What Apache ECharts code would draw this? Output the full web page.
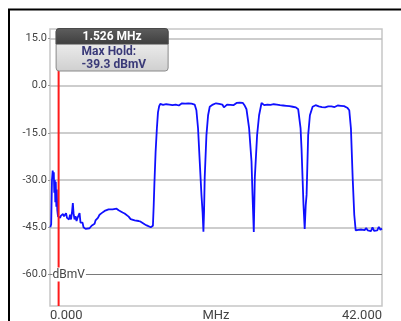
<!DOCTYPE html>
<html><head><meta charset="utf-8">
<script src="https://cdn.jsdelivr.net/npm/echarts@6/dist/echarts.min.js"></script>
<style>html,body{margin:0;padding:0;background:#fff}#c{width:401px;height:321px}</style>
</head><body><div id="c"></div>
<script>
// Spectrum trace (frequency in MHz, level in dBmV)
const traceMHz = [
  0.04,0.15,0.25,0.34,0.42,0.48,0.54,0.61,0.67,0.73,0.80,0.86,0.92,1.01,1.14,1.27,1.39,1.52,1.65,1.77,
  1.90,2.03,2.15,2.28,2.41,2.53,2.66,2.79,2.89,2.98,3.10,3.23,3.36,3.48,3.61,3.74,3.86,3.99,4.12,4.24,
  4.37,4.50,4.75,5.00,5.26,5.38,5.51,5.64,5.76,5.89,6.06,6.14,6.27,6.40,6.53,6.69,6.91,7.16,7.41,7.66,
  7.92,8.17,8.42,8.68,8.93,9.18,9.44,9.69,9.95,10.20,10.45,10.71,10.96,11.21,11.47,11.72,11.97,12.23,12.48,12.74,
  12.90,13.02,13.12,13.21,13.36,13.52,13.66,13.81,
  13.95,14.1,14.3,14.5,14.7,14.9,15.1,15.3,15.5,15.7,15.9,16.1,16.3,16.5,16.7,16.9,17.1,17.3,17.5,17.7,17.9,18.1,18.3,
  18.52,18.73,18.94,19.16,19.30,19.41,19.49,19.57,19.79,20.00,20.21,
  20.4,20.6,20.8,21.0,21.2,21.4,21.6,21.8,22.0,22.2,22.4,22.6,22.8,23.0,23.2,23.4,23.6,23.8,24.0,24.2,24.4,24.6,
  24.86,25.19,25.49,25.62,25.78,25.91,26.20,26.45,26.76,
  26.95,27.1,27.3,27.5,27.7,27.9,28.1,28.3,28.5,28.7,28.9,29.1,29.3,29.5,29.7,29.9,30.1,30.3,30.5,30.7,30.9,31.1,
  31.40,31.70,31.82,31.95,32.07,32.22,32.35,32.46,32.66,32.88,33.22,
  33.4,33.6,33.8,34.0,34.2,34.4,34.6,34.8,35.0,35.2,35.4,35.6,35.8,36.0,36.2,36.4,36.6,36.8,37.0,37.2,37.4,37.6,
  37.86,38.07,38.29,38.49,38.67,
  38.85,39.0,39.2,39.4,39.6,39.8,40.0,40.2,40.4,40.6,40.8,41.0,41.2,41.4,41.6,41.8,42.0
];
const traceDbmv = [
  -45,-44,-30,-27,-29,-27.5,-34,-30,-37,-30.5,-38.5,-33,-39.5,-41.5,-41,-42,-41.3,-41.8,-40.8,-41.5,
  -42,-40.5,-42,-41.5,-42.5,-41,-42.5,-40,-37.3,-40.5,-42.5,-41.5,-43,-42,-41.5,-40.5,-43.5,-44,-43.5,-45,
  -45.3,-45.5,-45.2,-45.3,-44.5,-44.8,-44,-43.9,-42.8,-43,-42,-41.5,-41,-41.2,-40.5,-40.5,-39.8,-40,-39.3,-38.9,
  -39.3,-38.7,-39.1,-39.6,-39.5,-40.3,-40.6,-41.2,-41.6,-42.4,-42.2,-42.8,-42.5,-43,-43.2,-43.7,-44,-44.4,-44.9,-45,
  -45.5,-44.5,-38,-30.9,-21,-13.6,-8.5,-6.5,
  -5.8,-5.3,-6.1,-5.5,-5.9,-5.4,-6.0,-5.6,-6.2,-5.7,-6.0,-5.5,-6.3,-5.8,-5.6,-6.1,-5.7,-5.9,-5.6,-6.0,-5.7,-5.8,-6.0,
  -7.8,-13.6,-24,-34.7,-40,-46.4,-40,-29.3,-15.7,-9.4,-6.7,
  -6.5,-6.0,-6.3,-5.6,-6.2,-5.8,-6.4,-6.0,-6.9,-6.3,-6.0,-5.6,-6.1,-5.8,-6.2,-5.7,-5.5,-5.9,-5.4,-5.8,-5.5,-6.2,
  -7.5,-13.6,-24,-34.7,-46.5,-29.3,-15.7,-9.4,-5.5,
  -5.6,-6.2,-5.8,-6.0,-6.6,-6.1,-6.4,-5.9,-6.3,-6.0,-6.5,-6.2,-6.6,-6.3,-6.0,-6.4,-6.2,-6.5,-6.2,-6.7,-6.6,-6.9,
  -7.5,-13.6,-20,-29.3,-38,-45.5,-38,-34.7,-15.7,-9.4,-6.7,
  -6.5,-6.2,-6.1,-6.6,-6.3,-6.8,-6.5,-6.9,-6.4,-6.6,-7.0,-6.6,-6.4,-6.8,-6.5,-6.3,-6.7,-6.4,-6.2,-6.5,-6.6,-7.0,
  -7.8,-13.6,-29.3,-41,-46,
  -46.0,-45.8,-46.2,-45.7,-46.3,-45.9,-45.2,-46.0,-45.6,-46.2,-45.0,-46.1,-45.5,-46.0,-44.9,-45.8,-45.4
];
const yTickValues = [15, 0, -15, -30, -45, -60];
const xTickValues = [0, 42];
const refLevel = -60;
const markerMHz = 1.09;
const markerTitle = '1.526 MHz';
const markerMode = 'Max Hold:';
const markerReading = '-39.3 dBmV';
const yUnit = 'dBmV';
const xUnit = 'MHz';

const chart = echarts.init(document.getElementById('c'), null, {renderer: 'canvas'});
const FONT = 'Roboto, "DejaVu Sans", sans-serif';
const traceData = traceMHz.map((x, i) => [x, traceDbmv[i]]);

chart.setOption({
  animation: false,
  backgroundColor: '#fff',
  grid: {left: 50, right: 19, top: 29, bottom: 15, show: true, backgroundColor: '#fff',
         borderColor: '#c6c6c6', borderWidth: 1.5, containLabel: false, outerBoundsMode: 'none'},
  xAxis: {
    type: 'value', min: 0, max: 42,
    axisLine: {show: false}, axisTick: {show: false}, splitLine: {show: false},
    axisLabel: {customValues: xTickValues, formatter: v => v.toFixed(3), fontSize: 13,
                color: '#444', fontFamily: FONT, margin: 3, alignMinLabel: 'left', alignMaxLabel: 'right'}
  },
  yAxis: {
    type: 'value', min: -70, max: 18,
    axisLine: {show: false}, splitLine: {show: false},
    axisTick: {show: true, customValues: yTickValues, length: 2, lineStyle: {color: '#999'}},
    axisLabel: {customValues: yTickValues, formatter: v => v.toFixed(1), fontSize: 11,
                color: '#444', fontFamily: FONT, margin: 3}
  },
  series: [{
    type: 'line', data: traceData, showSymbol: false, z: 3,
    lineStyle: {color: '#1010ff', width: 1.8}, silent: true,
    markLine: {
      silent: true, symbol: 'none', z: 1, label: {show: false},
      lineStyle: {type: 'solid', color: '#bcbcbc', width: 1.5},
      data: yTickValues.filter(v => v !== refLevel).map(v => ({yAxis: v}))
        .concat([{yAxis: refLevel, lineStyle: {color: '#7a7a7a', width: 1, type: 'solid'}}])
    }
  }]
});

const mx = chart.convertToPixel({xAxisIndex: 0}, markerMHz);
const yTop = chart.convertToPixel({yAxisIndex: 0}, 18);
const yBot = chart.convertToPixel({yAxisIndex: 0}, -70);
const refPx = chart.convertToPixel({gridIndex: 0}, [0, refLevel]);
const midX = (chart.convertToPixel({xAxisIndex: 0}, 0) + chart.convertToPixel({xAxisIndex: 0}, 42)) / 2;
const bx = mx - 2.5, by = 28.5, bw = 112, bh = 42.5, hh = 15.5;

chart.setOption({
  graphic: [
    {type: 'line', zlevel: 1, shape: {x1: 9, y1: 9, x2: 9, y2: 321}, style: {stroke: '#000', lineWidth: 2}},
    {type: 'line', zlevel: 1, shape: {x1: 8, y1: 9.5, x2: 401, y2: 9.5}, style: {stroke: '#000', lineWidth: 2}},
    {type: 'line', zlevel: 1, z: 1, shape: {x1: mx, y1: yTop, x2: mx, y2: yBot}, style: {stroke: '#ff1a1a', lineWidth: 2}},
    {type: 'text', zlevel: 1, x: midX, y: yBot + 3,
     style: {text: xUnit, fill: '#444', font: '13px ' + FONT, align: 'center', verticalAlign: 'top'}},
    {type: 'text', zlevel: 1, z: 2, x: refPx[0] + 2.5, y: refPx[1],
     style: {text: yUnit, fill: '#444', font: '12px ' + FONT, verticalAlign: 'middle',
             backgroundColor: '#fff', padding: [1, 1, 1, 0]}},
    {type: 'group', zlevel: 1, z: 10, x: bx, y: by, children: [
      {type: 'rect', zlevel: 1, z: 10, shape: {x: 0, y: 0, width: bw, height: bh, r: 3},
       style: {fill: {type: 'linear', x: 0, y: 0, x2: 0, y2: 1,
                      colorStops: [{offset: 0, color: '#fbfbfb'}, {offset: 1, color: '#cfcfcf'}]},
               stroke: '#8a8a8a', lineWidth: 1}},
      {type: 'rect', zlevel: 1, z: 11, shape: {x: 0, y: 0, width: bw, height: hh, r: [3, 3, 0, 0]},
       style: {fill: {type: 'linear', x: 0, y: 0, x2: 0, y2: 1,
                      colorStops: [{offset: 0, color: '#5e5e5e'}, {offset: 1, color: '#3e3e3e'}]},
               stroke: '#4a4a4a', lineWidth: 1}},
      {type: 'text', zlevel: 1, z: 12, x: bw / 2, y: 8.5,
       style: {text: markerTitle, fill: '#fff', font: 'bold 12px ' + FONT, align: 'center', verticalAlign: 'middle'}},
      {type: 'text', zlevel: 1, z: 12, x: 25.5, y: 23,
       style: {text: markerMode, fill: '#3a3a78', font: 'bold 12px ' + FONT, align: 'left', verticalAlign: 'middle'}},
      {type: 'text', zlevel: 1, z: 12, x: 25.5, y: 36,
       style: {text: markerReading, fill: '#3a3a78', font: 'bold 12px ' + FONT, align: 'left', verticalAlign: 'middle'}}
    ]}
  ]
});
</script>
</body></html>
